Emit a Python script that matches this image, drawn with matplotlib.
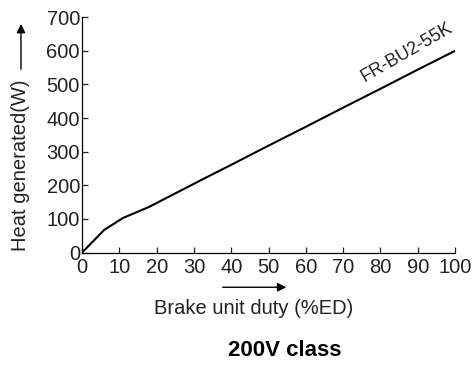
import matplotlib
matplotlib.use("Agg")
import matplotlib.pyplot as plt
from matplotlib.patches import FancyArrowPatch

plt.rcParams['font.family'] = ['Liberation Sans', 'DejaVu Sans']

# datos
duty = [0, 6, 11, 18, 25, 32, 40, 50, 60, 70, 80, 90, 100]
heat = [0, 68, 103, 136, 176, 216, 261, 318, 374, 431, 487, 544, 600]
x_ticks = [0, 10, 20, 30, 40, 50, 60, 70, 80, 90, 100]
y_ticks = [0, 100, 200, 300, 400, 500, 600, 700]
modelo = "FR-BU2-55K"

fig = plt.figure(figsize=(4.77, 3.65), dpi=100)
ax = fig.add_axes([0.172, 0.308, 0.782, 0.645])
ax.plot(duty, heat, color='black', lw=1.5)
ax.set_xlim(0, 100)
ax.set_ylim(0, 700)
ax.set_xticks(x_ticks)
ax.set_yticks(y_ticks)
ax.tick_params(direction='in', length=4, width=0.9, labelsize=14.5, colors='#222222')
ax.tick_params(axis='x', pad=4)
ax.tick_params(axis='y', pad=1.5)
for s in ['top', 'right']:
    ax.spines[s].set_visible(False)
for s in ['left', 'bottom']:
    ax.spines[s].set_linewidth(0.9)

ax.text(75.6, 506, modelo, rotation=30, fontsize=13, ha='left', va='baseline',
        rotation_mode='anchor', color='#222222')

# etiquetas con flechas
fig.text(0.042, 0.548, "Heat generated(W)", rotation=90, ha='center', va='center',
         fontsize=14.5, color='#222222')
fig.add_artist(FancyArrowPatch((0.044, 0.803), (0.044, 0.942), transform=fig.transFigure,
                               arrowstyle='-|>', mutation_scale=13, color='black', lw=1.0))
fig.text(0.531, 0.155, "Brake unit duty (%ED)", ha='center', va='center',
         fontsize=14.5, color='#222222')
fig.add_artist(FancyArrowPatch((0.461, 0.213), (0.606, 0.213), transform=fig.transFigure,
                               arrowstyle='-|>', mutation_scale=13, color='black', lw=1.0))
fig.text(0.596, 0.04, "200V class", ha='center', va='center', fontsize=16, fontweight='bold')

fig.savefig("out.png", dpi=100)
